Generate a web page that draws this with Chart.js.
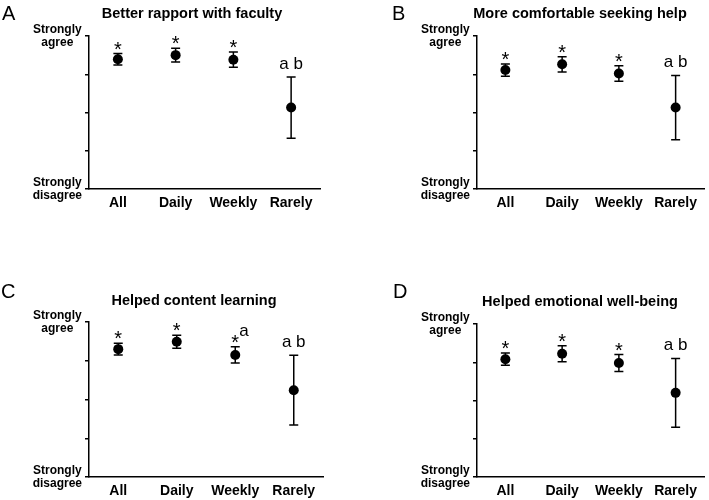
<!DOCTYPE html>
<html>
<head>
<meta charset="utf-8">
<script src="https://cdn.jsdelivr.net/npm/chart.js@4.4.1/dist/chart.umd.min.js"></script>
<style>
  html, body { margin: 0; padding: 0; background: #fff; }
  body { width: 709px; height: 500px; overflow: hidden; position: relative; font-family: 'Liberation Sans', Arial, sans-serif; }
  canvas { position: absolute; }
  .letter { position: absolute; font-size: 20px; line-height: 1; color: #000; }
  .title { position: absolute; font-size: 14.5px; font-weight: bold; line-height: 1; color: #000; white-space: nowrap; transform: translateX(-50%); }
</style>
</head>
<body>
<script>
const categories = ['All', 'Daily', 'Weekly', 'Rarely'];

const meansA = [4.39, 4.50, 4.38, 3.13];
const errA   = [0.15, 0.18, 0.20, 0.80];
const meansB = [4.11, 4.26, 4.02, 3.13];
const errB   = [0.16, 0.20, 0.20, 0.84];
const meansC = [4.30, 4.49, 4.15, 3.24];
const errC   = [0.15, 0.17, 0.21, 0.90];
const meansD = [4.08, 4.22, 3.98, 3.20];
const errD   = [0.16, 0.21, 0.22, 0.90];

const sigA = ['*', '*', '*', 'a b'];
const sigB = ['*', '*', '*', 'a b'];
const sigC = ['*', '*', '*a', 'a b'];
const sigD = ['*', '*', '*', 'a b'];

const titles = ['Better rapport with faculty', 'More comfortable seeking help',
                'Helped content learning', 'Helped emotional well-being'];
const letters = ['A', 'B', 'C', 'D'];

const yMin = 1, yMax = 5;
const yLabels = { 5: ['Strongly', 'agree'], 1: ['Strongly', 'disagree'] };

const FONT = "'Liberation Sans', Arial, sans-serif";

// error bars under the dots, significance marks above
const errorBars = {
  id: 'errorBars',
  beforeDatasetsDraw(chart) {
    const { ctx, scales: { x, y } } = chart;
    const ds = chart.data.datasets[0];
    ctx.save();
    ctx.strokeStyle = '#000';
    ctx.lineWidth = 1.5;
    ds.data.forEach((v, i) => {
      const px = x.getPixelForValue(i);
      const top = y.getPixelForValue(v + ds.errors[i]);
      const bot = y.getPixelForValue(v - ds.errors[i]);
      ctx.beginPath();
      ctx.moveTo(px, top); ctx.lineTo(px, bot);
      ctx.moveTo(px - 4.5, top); ctx.lineTo(px + 4.5, top);
      ctx.moveTo(px - 4.5, bot); ctx.lineTo(px + 4.5, bot);
      ctx.stroke();
    });
    ctx.restore();
  },
  afterDatasetsDraw(chart) {
    const { ctx, scales: { x, y } } = chart;
    const ds = chart.data.datasets[0];
    ctx.save();
    ctx.fillStyle = '#000';
    ctx.textBaseline = 'alphabetic';
    ds.data.forEach((v, i) => {
      const label = ds.marks[i];
      const px = x.getPixelForValue(i);
      const top = y.getPixelForValue(v + ds.errors[i]);
      if (label[0] === '*') {
        ctx.font = '20px ' + FONT;
        ctx.textAlign = 'center';
        ctx.fillText('*', px, top + 2);
        if (label.length > 1) {
          ctx.font = '17px ' + FONT;
          ctx.textAlign = 'left';
          ctx.fillText(label.slice(1), px + 4, top - 11);
        }
      } else {
        ctx.font = '17px ' + FONT;
        ctx.textAlign = 'center';
        ctx.fillText(label, px, top - 8);
      }
    });
    ctx.restore();
  }
};

function addText(cls, text, x, y) {
  const d = document.createElement('div');
  d.className = cls;
  d.textContent = text;
  d.style.left = x + 'px';
  d.style.top = y + 'px';
  document.body.appendChild(d);
}

function makePanel(idx, means, errs, marks, box) {
  const canvas = document.createElement('canvas');
  canvas.width = box.w; canvas.height = box.h;
  canvas.style.left = box.left + 'px';
  canvas.style.top = box.top + 'px';
  document.body.appendChild(canvas);

  addText('letter', letters[idx], box.letterX, box.letterY);
  addText('title', titles[idx], box.titleX, box.titleY);

  new Chart(canvas, {
    type: 'line',
    data: {
      labels: categories,
      datasets: [{
        data: means,
        errors: errs,
        marks: marks,
        showLine: false,
        pointRadius: 5,
        pointHoverRadius: 5,
        pointBackgroundColor: '#000',
        pointBorderColor: '#000',
        pointBorderWidth: 0
      }]
    },
    options: {
      responsive: false,
      animation: false,
      events: [],
      layout: { padding: { left: box.padL, right: box.padR, top: 36, bottom: 0 } },
      plugins: {
        legend: { display: false },
        tooltip: { enabled: false }
      },
      scales: {
        x: {
          type: 'category',
          offset: true,
          grid: { display: false, drawTicks: false },
          border: { display: true, color: '#000', width: 1.5 },
          ticks: { color: '#000', padding: 6, font: { family: FONT, size: 14, weight: 'bold' } },
          afterFit: (s) => { s.height = 30; }
        },
        y: {
          min: yMin,
          max: yMax,
          grid: { drawOnChartArea: false, tickLength: 4, color: '#000', lineWidth: 1.5 },
          border: { display: true, color: '#000', width: 1.5 },
          ticks: {
            stepSize: 1,
            color: '#000',
            padding: 3,
            crossAlign: 'center',
            font: { family: FONT, size: 12, weight: 'bold', lineHeight: 1.1 },
            callback: (v) => yLabels[v] || ''
          },
          afterFit: (s) => { s.width = 60; }
        }
      }
    },
    plugins: [errorBars]
  });
}

makePanel(0, meansA, errA, sigA, { left: 0,   top: 0,   w: 354, h: 219, padL: 29, padR: 34, letterX: 2,   letterY: 3,   titleX: 192, titleY: 6 });
makePanel(1, meansB, errB, sigB, { left: 354, top: 0,   w: 355, h: 219, padL: 63, padR: 1,  letterX: 392, letterY: 3,   titleX: 580, titleY: 6 });
makePanel(2, meansC, errC, sigC, { left: 0,   top: 286, w: 354, h: 221, padL: 29, padR: 31, letterX: 1,   letterY: 281, titleX: 194, titleY: 293 });
makePanel(3, meansD, errD, sigD, { left: 354, top: 288, w: 355, h: 219, padL: 63, padR: 1,  letterX: 393, letterY: 281, titleX: 580, titleY: 294 });
</script>
</body>
</html>
